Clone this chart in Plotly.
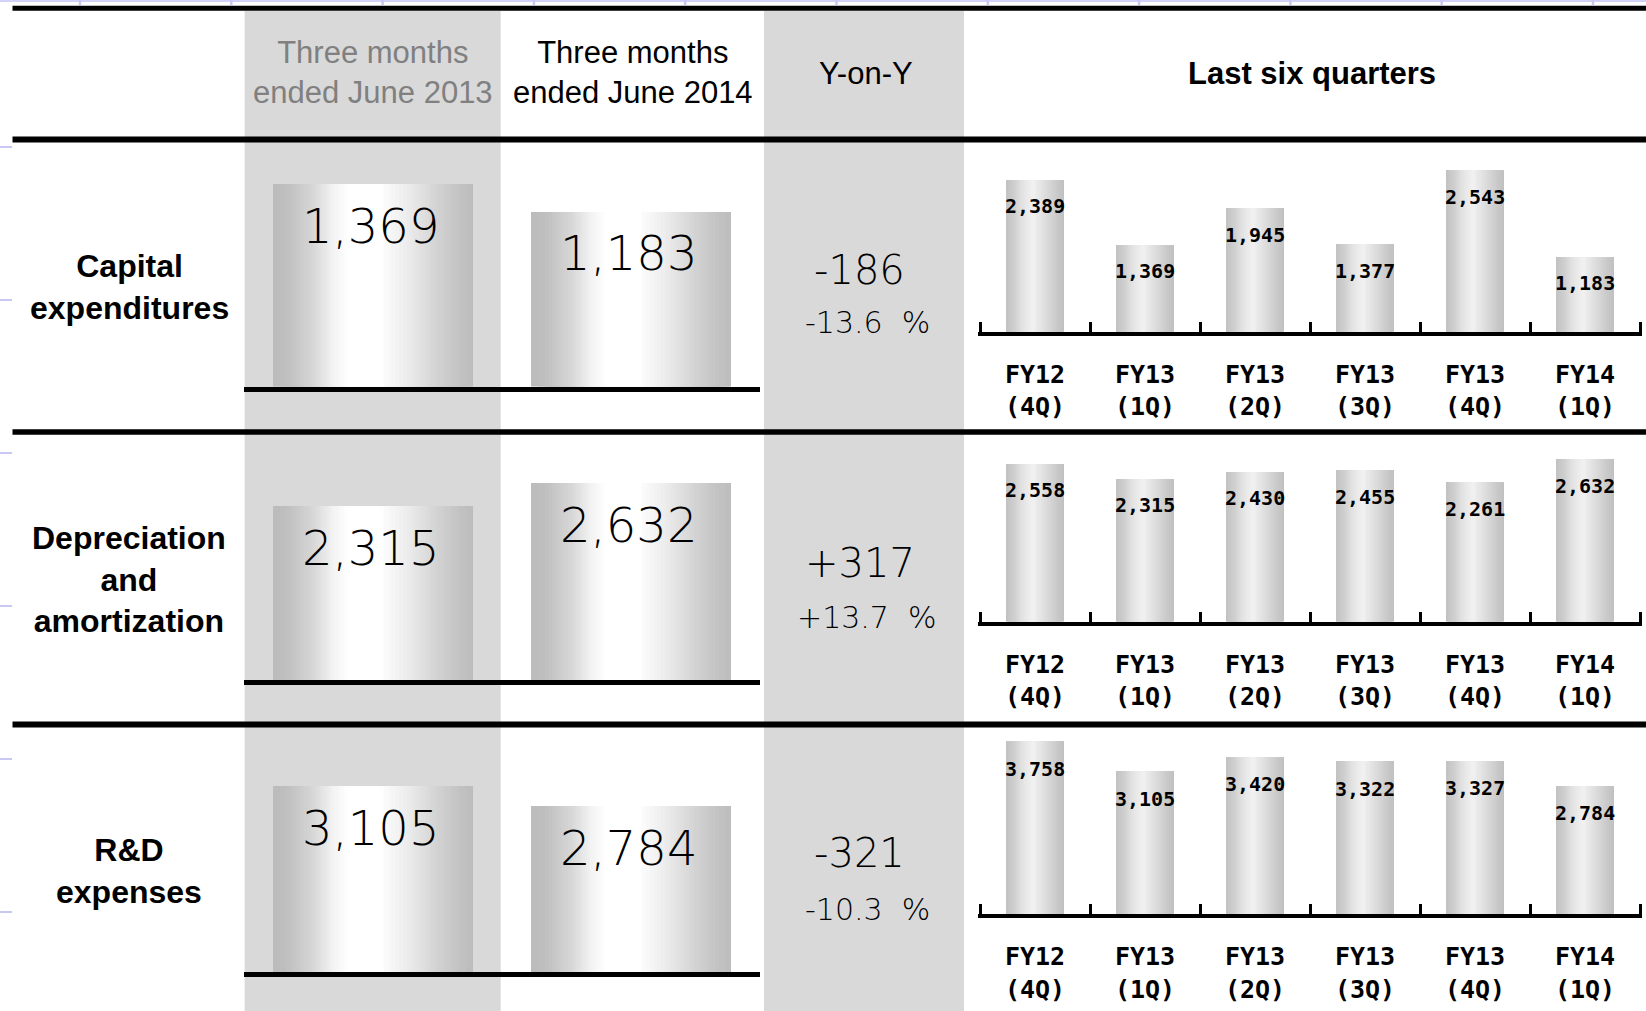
import numpy as np
import plotly.graph_objects as go

W, H = 1646, 1011

# ---------------- data ----------------
row_labels = ["Capital<br>expenditures", "Depreciation<br>and<br>amortization", "R&D<br>expenses"]
header_2013 = "Three months<br>ended June 2013"
header_2014 = "Three months<br>ended June 2014"
header_yoy = "Y-on-Y"
header_quarters = "Last six quarters"
periods = ["June 2013", "June 2014"]
capex_period = [1369, 1183]
dep_period = [2315, 2632]
rd_period = [3105, 2784]
yoy_change = ["-186", "+317", "-321"]
yoy_pct = ["-13.6", "+13.7", "-10.3"]
quarters = ["FY12<br>(4Q)", "FY13<br>(1Q)", "FY13<br>(2Q)", "FY13<br>(3Q)", "FY13<br>(4Q)", "FY14<br>(1Q)"]
capex_q = [2389, 1369, 1945, 1377, 2543, 1183]
dep_q = [2558, 2315, 2430, 2455, 2261, 2632]
rd_q = [3758, 3105, 3420, 3322, 3327, 2784]

period_rows = [capex_period, dep_period, rd_period]
quarter_rows = [capex_q, dep_q, rd_q]

# ---------------- geometry / style ----------------
def px(x):
    return x / W

def py(y):
    return 1 - y / H

BIG_X = (243.5, 760)
BIG_BOTTOM = [386.5, 680.0, 972.0]
BIG_SCALE = [0.148, 0.075, 0.0598]
BIG_H = 240
BIG_BW = 0.775

SM_PAD = 0.02                      # axis overhang beyond the outer category boundaries
SM_CAT_PX = 110.0
SM_X = (980 - SM_PAD * SM_CAT_PX, 1640 + SM_PAD * SM_CAT_PX)
SM_BOTTOM = [331.8, 621.5, 914.4]
SM_SCALE = [0.0638, 0.0618, 0.046]
SM_H = 200
SM_BW = 0.53

GRAY = "#d9d9d9"
ARIAL = "Liberation Sans, Arial, sans-serif"
MONO = "DejaVu Sans Mono, monospace"
THIN = "DejaVu Sans, sans-serif"


def gradient_layers(left_x, left_c, right_x, right_c, n):
    c0 = min(left_c[0], right_c[-1])
    c1 = max(left_c[-1], right_c[0])
    out = []
    for c in np.linspace(c0, c1, n):
        l = float(np.interp(c, left_c, left_x))
        r = float(np.interp(c, right_c[::-1], right_x[::-1]))
        out.append((l, r, int(round(c))))
    return out


BIG_LAYERS = gradient_layers(
    [0.0, 0.08, 0.2, 0.3, 0.37], [188, 194, 216, 244, 255],
    [0.55, 0.68, 0.82, 0.93, 1.0], [253, 236, 212, 196, 190], 28)
SM_LAYERS = gradient_layers(
    [0.0, 0.12, 0.28, 0.42], [194, 206, 228, 240],
    [0.5, 0.68, 0.88, 1.0], [238, 222, 202, 192], 20)


def axn(i):
    return "" if i == 1 else str(i)


fig = go.Figure()
layout_axes = {}
annotations = []

for r in range(3):
    bi, si = 2 * r + 1, 2 * r + 2
    # ---- big two-period chart ----
    bb = BIG_BOTTOM[r]
    layout_axes[f"xaxis{axn(bi)}"] = dict(
        domain=[px(BIG_X[0]), px(BIG_X[1])], anchor=f"y{axn(bi)}", type="category",
        categoryorder="array", categoryarray=periods, range=[-0.5, 1.5],
        showline=True, linecolor="black", linewidth=5, showticklabels=False,
        ticks="", showgrid=False, zeroline=False, fixedrange=True)
    layout_axes[f"yaxis{axn(bi)}"] = dict(
        domain=[py(bb), py(bb - BIG_H)], anchor=f"x{axn(bi)}",
        range=[0, BIG_H / BIG_SCALE[r]], visible=False, fixedrange=True)
    for (l, rr, c) in BIG_LAYERS:
        fig.add_trace(go.Bar(
            x=periods, y=period_rows[r], width=(rr - l) * BIG_BW, offset=(l - 0.5) * BIG_BW,
            marker=dict(color=f"rgb({c},{c},{c})", line=dict(width=0)),
            xaxis=f"x{axn(bi)}", yaxis=f"y{axn(bi)}", hoverinfo="skip", showlegend=False))
    for p, v in zip(periods, period_rows[r]):
        annotations.append(dict(
            x=p, y=v, xref=f"x{axn(bi)}", yref=f"y{axn(bi)}", yshift=-42, xshift=-2,
            text=f"{v:,}", showarrow=False, yanchor="middle",
            font=dict(family=THIN, size=48, color="#000000", weight=300)))

    # ---- six-quarter chart ----
    sb = SM_BOTTOM[r]
    layout_axes[f"xaxis{axn(si)}"] = dict(
        domain=[px(SM_X[0]), px(SM_X[1])], anchor=f"y{axn(si)}", type="category",
        categoryorder="array", categoryarray=quarters, range=[-0.5 - SM_PAD, 5.5 + SM_PAD],
        showline=True, linecolor="black", linewidth=4,
        ticks="inside", tickson="boundaries", ticklen=10, tickwidth=3, tickcolor="black",
        tickfont=dict(family=MONO, size=25, color="black", weight="bold"),
        ticklabelstandoff=17,
        showgrid=False, zeroline=False, fixedrange=True)
    layout_axes[f"yaxis{axn(si)}"] = dict(
        domain=[py(sb), py(sb - SM_H)], anchor=f"x{axn(si)}",
        range=[0, SM_H / SM_SCALE[r]], visible=False, fixedrange=True)
    for (l, rr, c) in SM_LAYERS:
        fig.add_trace(go.Bar(
            x=quarters, y=quarter_rows[r], width=(rr - l) * SM_BW, offset=(l - 0.5) * SM_BW,
            marker=dict(color=f"rgb({c},{c},{c})", line=dict(width=0)),
            xaxis=f"x{axn(si)}", yaxis=f"y{axn(si)}", hoverinfo="skip", showlegend=False))
    for q, v in zip(quarters, quarter_rows[r]):
        annotations.append(dict(
            x=q, y=v, xref=f"x{axn(si)}", yref=f"y{axn(si)}", yshift=-27,
            text=f"{v:,}", showarrow=False, yanchor="middle",
            font=dict(family=MONO, size=20, color="black", weight="bold")))

# ---------------- table text ----------------
def paper_text(x, y, text, size, color="black", family=ARIAL, weight="normal"):
    annotations.append(dict(
        x=px(x), y=py(y), xref="paper", yref="paper", text=text, showarrow=False,
        xanchor="center", yanchor="middle",
        font=dict(family=family, size=size, color=color, weight=weight)))

paper_text(373, 72.5, header_2013, 31, color="#808080")
paper_text(633, 72.5, header_2014, 31)
paper_text(866, 73.5, header_yoy, 31)
paper_text(1312, 73.5, header_quarters, 31, weight="bold")

row_centers = [287, 579, 870.5]
for r in range(3):
    paper_text(129, row_centers[r], row_labels[r], 32, weight="bold")

yoy_centers = [(270, 323), (563, 617), (853, 909)]
for r in range(3):
    paper_text(860, yoy_centers[r][0], yoy_change[r], 40, family=THIN, color="#000000", weight=300)
    paper_text(867, yoy_centers[r][1], yoy_pct[r] + "\u00a0\u00a0%", 30, family=THIN, color="#000000", weight=300)

# ---------------- shapes: backgrounds, rules, ruler marks ----------------
shapes = []
def rect(x0, y0, x1, y1, color, layer="below"):
    shapes.append(dict(type="rect", xref="paper", yref="paper", x0=px(x0), x1=px(x1),
                       y0=py(y1), y1=py(y0), fillcolor=color, line=dict(width=0), layer=layer))

def hline(x0, x1, y, width, color="black", layer="above"):
    shapes.append(dict(type="line", xref="paper", yref="paper", x0=px(x0), x1=px(x1),
                       y0=py(y), y1=py(y), line=dict(color=color, width=width), layer=layer))

def vline(x, y0, y1, width, color):
    shapes.append(dict(type="line", xref="paper", yref="paper", x0=px(x), x1=px(x),
                       y0=py(y0), y1=py(y1), line=dict(color=color, width=width), layer="below"))

rect(244.6, 11, 500.7, H, GRAY)
rect(764, 11, 964, H, GRAY)
rect(0, 0, W, 2, "#d2d2f8")
for k in range(11):
    vline(80 + 151.3 * k, 0, 5, 2.5, "#c8c8f4")
for k in range(6):
    hline(0, 12, 147 + 153 * k, 2, color="#c8c8f4", layer="below")

hline(12.5, W, 8.3, 5)
hline(12.5, W, 139.5, 6)
hline(12.5, W, 432, 5.5)
hline(12.5, W, 724.5, 6)

fig.update_layout(
    width=W, height=H, margin=dict(l=0, r=0, t=0, b=0),
    paper_bgcolor="white", plot_bgcolor="rgba(0,0,0,0)",
    barmode="overlay", bargap=0, showlegend=False,
    annotations=annotations, shapes=shapes, **layout_axes)

fig.write_html("out.html", config={"displayModeBar": False})
